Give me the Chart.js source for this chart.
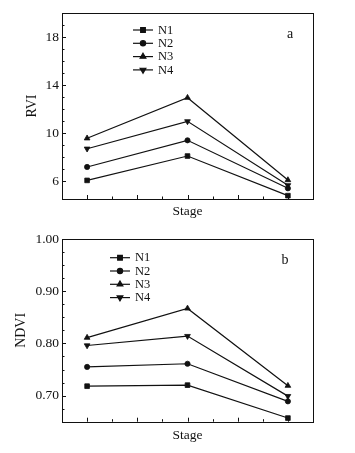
<!DOCTYPE html>
<html><head><meta charset="utf-8">
<script src="https://cdn.jsdelivr.net/npm/chart.js@4/dist/chart.umd.min.js"></script>
<style>
html,body{margin:0;padding:0;background:#fff;width:355px;height:453px;overflow:hidden}
.c{position:absolute;left:0}
</style></head><body>
<div class="c" style="top:0;width:355px;height:220px"><canvas id="a"></canvas></div>
<div class="c" style="top:220px;width:355px;height:233px"><canvas id="b"></canvas></div>
<script>
// Data
const stages = [0, 1, 2];
const seriesNames = ['N1', 'N2', 'N3', 'N4'];
const rviN1 = [6.05, 8.08, 4.78];
const rviN2 = [7.17, 9.39, 5.39];
const rviN3 = [9.56, 12.94, 6.08];
const rviN4 = [8.69, 10.97, 5.64];
const ndviN1 = [0.718, 0.720, 0.657];
const ndviN2 = [0.755, 0.761, 0.689];
const ndviN3 = [0.811, 0.867, 0.719];
const ndviN4 = [0.796, 0.814, 0.699];
const rviTickLabels = [6, 10, 14, 18];
const ndviTickLabels = [0.70, 0.80, 0.90, 1.00];

const FONT = "'Liberation Serif', 'Times New Roman', serif";
const INK = '#111';
const styles = [
  {pointStyle: 'rect', rotation: 0, radius: 3.3},
  {pointStyle: 'circle', rotation: 0, radius: 2.6},
  {pointStyle: 'triangle', rotation: 0, radius: 3.3},
  {pointStyle: 'triangle', rotation: 180, radius: 3.3}
];

function mkDatasets(arrs) {
  return arrs.map((vals, i) => ({
    label: seriesNames[i],
    data: stages.map((s, j) => ({x: s, y: vals[j]})),
    borderColor: INK, backgroundColor: INK, borderWidth: 1.2,
    pointStyle: styles[i].pointStyle, pointRotation: styles[i].rotation,
    pointRadius: styles[i].radius, pointHoverRadius: styles[i].radius,
    pointBorderWidth: 0.8, tension: 0
  }));
}

const framePlugin = {
  id: 'frame',
  afterDraw(chart, args, opts) {
    const {ctx, chartArea: ca, scales} = chart;
    ctx.save();
    ctx.strokeStyle = INK; ctx.lineWidth = 1;
    ctx.strokeRect(Math.round(ca.left) + 0.5, Math.round(ca.top) + 0.5,
      Math.round(ca.right - ca.left), Math.round(ca.bottom - ca.top));
    // inward ticks y
    const ys = scales.y;
    ys.ticks.forEach(t => {
      if (!opts.isYTick(t.value)) return;
      const p = Math.round(ys.getPixelForValue(t.value)) + 0.5;
      const len = opts.isYLabel(t.value) ? 4 : 2.5;
      ctx.beginPath(); ctx.moveTo(ca.left, p); ctx.lineTo(ca.left + len, p); ctx.stroke();
    });
    const xs = scales.x;
    xs.ticks.forEach(t => {
      if (t.value < -1e-9 || t.value > 2 + 1e-9) return;
      const p = Math.round(xs.getPixelForValue(t.value)) + 0.5;
      const major = Math.abs(t.value * 2 - Math.round(t.value * 2)) < 1e-6;
      const len = major ? 4 : 2.5;
      ctx.beginPath(); ctx.moveTo(p, ca.bottom); ctx.lineTo(p, ca.bottom - len); ctx.stroke();
    });
    // legend
    const lg = opts.legend;
    ctx.font = '12.5px ' + FONT; ctx.fillStyle = INK; ctx.textBaseline = 'middle';
    chart.data.datasets.forEach((ds, i) => {
      const y = lg.y + i * lg.dy;
      ctx.beginPath(); ctx.lineWidth = 1.2; ctx.moveTo(lg.x, y); ctx.lineTo(lg.x + lg.w, y); ctx.stroke();
      Chart.helpers.drawPoint(ctx, {pointStyle: ds.pointStyle, rotation: ds.pointRotation, radius: ds.pointRadius, borderWidth: 0.8}, lg.x + lg.w / 2, y);
      ctx.fillText(ds.label, lg.x + lg.w + 5, y + 0.5);
    });
    ctx.font = '14px ' + FONT; ctx.textAlign = 'center';
    ctx.fillText(opts.tag.text, opts.tag.x, opts.tag.y);
    ctx.restore();
  }
};

function makeChart(id, datasets, cfg) {
  return new Chart(document.getElementById(id), {
    type: 'line',
    data: {datasets},
    plugins: [framePlugin],
    options: {
      responsive: true, maintainAspectRatio: false, animation: false,
      layout: {padding: {left: 0, right: 42, top: cfg.top, bottom: 0}},
      plugins: {legend: {display: false}, tooltip: {enabled: false},
        frame: cfg.frame},
      scales: {
        x: {type: 'linear', min: -0.25, max: 2.25,
          ticks: {stepSize: 0.25, display: false},
          grid: {display: false, drawTicks: false}, border: {display: false},
          title: {display: true, text: 'Stage', color: INK, font: {family: FONT, size: 13.5}, padding: {top: 0, bottom: cfg.xTitlePad}},
          afterFit(s) { s.height = cfg.xH; }
        },
        y: {type: 'linear', min: cfg.yMin, max: cfg.yMax,
          ticks: {stepSize: cfg.step, padding: 3, color: INK, font: {family: FONT, size: 13.5},
            autoSkip: false, callback: cfg.label},
          grid: {display: false, drawTicks: false}, border: {display: false},
          title: {display: true, text: cfg.yTitle, color: INK, font: {family: FONT, size: 14}, padding: {top: cfg.yTitlePad, bottom: 0}},
          afterFit(s) { s.width = 62; }
        }
      }
    }
  });
}

const near = (a, b) => Math.abs(a - b) < 1e-6;

makeChart('a', mkDatasets([rviN1, rviN2, rviN3, rviN4]), {
  top: 13, xH: 21, xTitlePad: 0, yMin: 4.5, yMax: 20, step: 1, yTitle: 'RVI', yTitlePad: 24,
  label: (v) => rviTickLabels.some(t => near(t, v)) ? String(v) : '',
  frame: {
    isYTick: v => near(v, Math.round(v)),
    isYLabel: v => rviTickLabels.some(t => near(t, v)),
    legend: {x: 133, y: 30, dy: 13.3, w: 20},
    tag: {text: 'a', x: 290, y: 34}
  }
});

makeChart('b', mkDatasets([ndviN1, ndviN2, ndviN3, ndviN4]), {
  top: 19, xH: 31.3, xTitlePad: 9, yMin: 0.65, yMax: 1.0, step: 0.025, yTitle: 'NDVI', yTitlePad: 13,
  label: (v) => ndviTickLabels.some(t => near(t, v)) ? v.toFixed(2) : '',
  frame: {
    isYTick: v => near(v * 40, Math.round(v * 40)),
    isYLabel: v => ndviTickLabels.some(t => near(t, v)),
    legend: {x: 110, y: 37.7, dy: 13.3, w: 20},
    tag: {text: 'b', x: 285, y: 40}
  }
});
</script>
</body></html>
